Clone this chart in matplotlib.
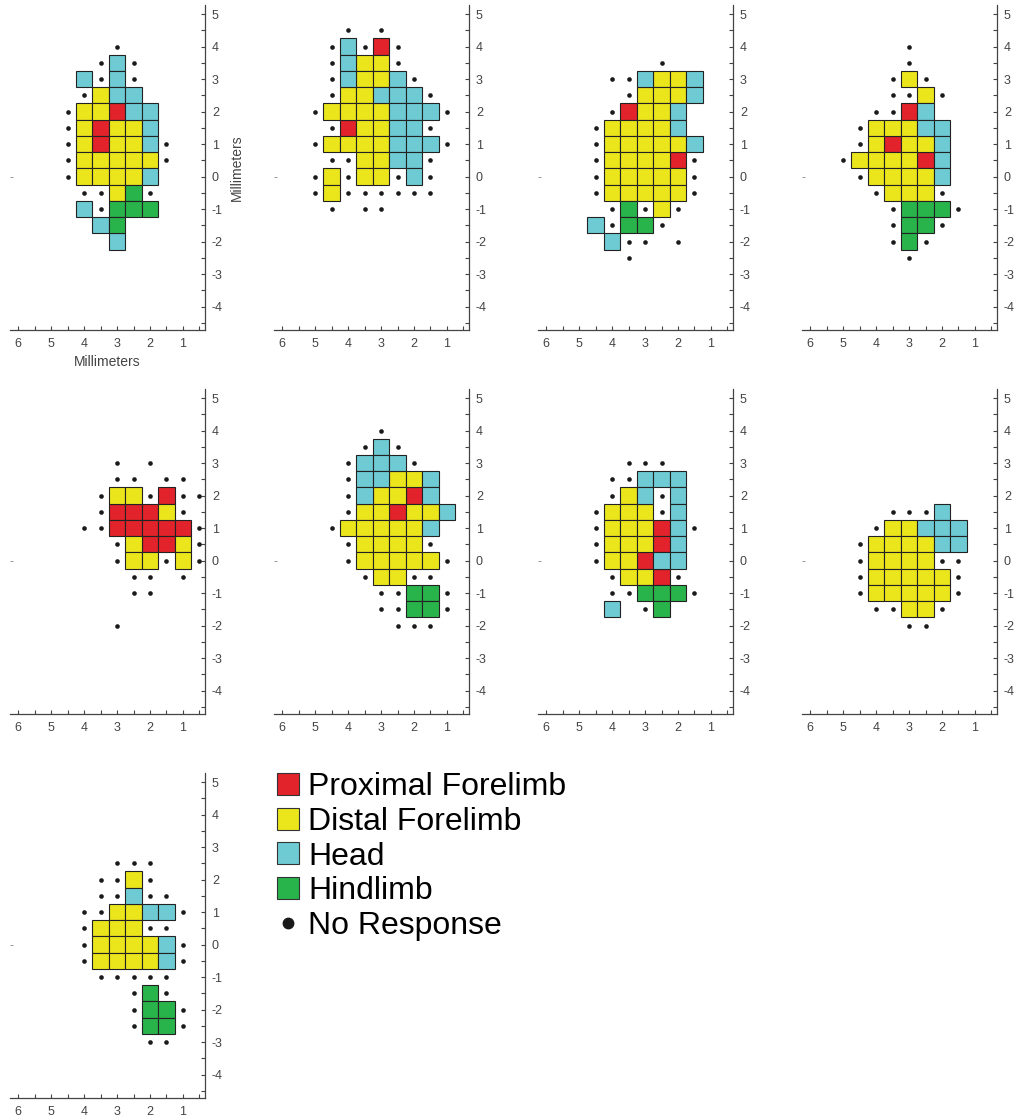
import numpy as np
import matplotlib.pyplot as plt
from matplotlib.patches import Patch
from matplotlib.lines import Line2D

plt.rcParams['font.family'] = ['Liberation Sans', 'DejaVu Sans']

# grid positions (mm), 0.5 mm sites
grid_x = [5.0, 4.5, 4.0, 3.5, 3.0, 2.5, 2.0, 1.5, 1.0, 0.5]
grid_y = [4.5, 4.0, 3.5, 3.0, 2.5, 2.0, 1.5, 1.0, 0.5, 0.0,
          -0.5, -1.0, -1.5, -2.0, -2.5, -3.0]

# P = proximal forelimb, D = distal forelimb, H = head, L = hindlimb, o = no response
panel1 = ["..........",
          "....o.....",
          "...oHo....",
          "..HoHo....",
          "..oDHH....",
          ".oDDPHH...",
          ".oDPDDH...",
          ".oDPDDHo..",
          ".oDDDDDo..",
          ".oDDDDH...",
          "..ooDLo...",
          "..HoLLL...",
          "...HL.....",
          "....H.....",
          "..........",
          ".........."]
panel2 = ["..o.o.....",
          ".oHoPo....",
          ".oHDDo....",
          ".oHDDHo...",
          ".oDDHHHo..",
          "oDDDDHHHo.",
          ".oPDDHHo..",
          "oDDDDHHHo.",
          ".ooDDHHo..",
          "oDoDDoHo..",
          "oDoooooo..",
          ".o.oo.....",
          "..........",
          "..........",
          "..........",
          ".........."]
panel3 = ["..........",
          "..........",
          ".....o....",
          "..ooHDDH..",
          "...oDDDH..",
          "..oPDDH...",
          ".oDDDDH...",
          ".oDDDDDH..",
          ".oDDDDPo..",
          ".oDDDDDo..",
          ".oDDDDDo..",
          "..oLoDo...",
          ".HoLLo....",
          "..Hoo.o...",
          "...o......",
          ".........."]
panel4 = ["..........",
          "....o.....",
          "....o.....",
          "...oDo....",
          "...ooDo...",
          "..ooPH....",
          ".oDDDHH...",
          ".oDPDDH...",
          "oDDDDPH...",
          ".oDDDDH...",
          "..oDDDo...",
          "...oLLLo..",
          "...oLLo...",
          "...oLo....",
          "....o.....",
          ".........."]
panel5 = ["..........",
          "..........",
          "..........",
          "....o.o...",
          "....oo.oo.",
          "...oDDoPoo",
          "...oPPPDo.",
          "..ooPPPPPo",
          "....oDPPDo",
          "....oDDoDo",
          ".....oo.o.",
          ".....oo...",
          "..........",
          "....o.....",
          "..........",
          ".........."]
panel6 = ["..........",
          "....o.....",
          "...oHo....",
          "..oHHHo...",
          "..oHHDDH..",
          "..oHDDPH..",
          "..oDDPDDH.",
          ".oDDDDDH..",
          "..oDDDDo..",
          "..oDDDDDo.",
          "...oDDoo..",
          "....ooLLo.",
          "....ooLLo.",
          ".....ooo..",
          "..........",
          ".........."]
panel7 = ["..........",
          "..........",
          "..........",
          "...ooo....",
          "..ooHHH...",
          "..oDHoH...",
          ".oDDDoH...",
          ".oDDDPHo..",
          ".oDDDPH...",
          ".oDDPHH...",
          "..oDDPo...",
          "..ooLLLo..",
          "..H.oL....",
          "..........",
          "..........",
          ".........."]
panel8 = ["..........",
          "..........",
          "..........",
          "..........",
          "..........",
          "..........",
          "...oooH...",
          "..oDDHHH..",
          ".oDDDDHH..",
          ".oDDDDoo..",
          ".oDDDDDo..",
          ".oDDDDDo..",
          "..ooDDo...",
          "....oo....",
          "..........",
          ".........."]
panel9 = ["..........",
          "..........",
          "..........",
          "..........",
          "....ooo...",
          "...ooDo...",
          "...ooHoo..",
          "..ooDDHHo.",
          "..oDDDoo..",
          "..oDDDDHo.",
          "..oDDDDHo.",
          "...ooooo..",
          ".....oLo..",
          ".....oLLo.",
          ".....oLLo.",
          "......oo.."]
panels = [panel1, panel2, panel3, panel4, panel5, panel6, panel7, panel8, panel9]

categories = ['Proximal Forelimb', 'Distal Forelimb', 'Head', 'Hindlimb', 'No Response']
codes = ['P', 'D', 'H', 'L', 'o']
colors = ['#e3232b', '#ebe61c', '#6ecbd4', '#29b34b', '#1a1a1a']

xticks = np.arange(0.5, 6.01, 0.5)
yticks = np.arange(-4.5, 5.01, 0.5)


def lab(v):
    return '%d' % v if v == int(v) else ''


W, H = 1020, 1120
fig = plt.figure(figsize=(W / 100, H / 100), dpi=100)

for i, grid in enumerate(panels):
    r, c = divmod(i, 4)
    left = 10 + c * 264
    top = 5 + r * 384
    ax = fig.add_axes([left / W, 1 - (top + 325) / H, 195 / W, 325 / H])
    for code, col in zip(codes, colors):
        xs, ys = [], []
        for row, yv in zip(grid, grid_y):
            for ch, xv in zip(row, grid_x):
                if ch == code:
                    xs.append(xv)
                    ys.append(yv)
        if not xs:
            continue
        if code == 'o':
            ax.scatter(xs, ys, s=11, color=col, lw=0, zorder=3)
        else:
            ax.bar(xs, 0.5, width=0.5, bottom=np.array(ys) - 0.25, color=col,
                   edgecolor='#222222', linewidth=0.8, zorder=2)
    ax.set_xlim(6.25, 0.33)
    ax.set_ylim(-4.72, 5.28)
    for s in ['top', 'left']:
        ax.spines[s].set_visible(False)
    for s in ['bottom', 'right']:
        ax.spines[s].set_color('#444444')
        ax.spines[s].set_linewidth(0.9)
    ax.yaxis.tick_right()
    ax.set_xticks(xticks)
    ax.set_xticklabels([lab(v) for v in xticks])
    ax.set_yticks(yticks)
    ax.set_yticklabels([lab(v) for v in yticks])
    ax.tick_params(direction='in', length=3, width=0.8, color='#444444',
                   labelsize=9, labelcolor='#444444')
    ax.tick_params(axis='y', pad=5)
    ax.tick_params(axis='x', pad=6)
    ax.patch.set_alpha(0)
    # small mark at y=0 on the (hidden) left side
    sec = ax.secondary_yaxis('left')
    sec.spines['left'].set_visible(False)
    sec.set_yticks([0])
    sec.set_yticklabels([])
    sec.tick_params(direction='in', length=2, width=0.6, color='#888888')
    if i == 0:
        ax.set_xlabel('Millimeters', fontsize=10, color='#444444', labelpad=3)
        ax.yaxis.set_label_position('right')
        ax.set_ylabel('Millimeters', fontsize=10, color='#444444', labelpad=5)

handles = [Patch(facecolor=col, edgecolor='#333333', linewidth=0.8) for col in colors[:4]]
handles.append(Line2D([], [], marker='o', ls='', color=colors[4], markersize=7.5))
fig.legend(handles, categories, loc='upper left', bbox_to_anchor=(277 / W, 1 - 772 / H),
           frameon=False, fontsize=23, handlelength=0.68, handleheight=0.68,
           handletextpad=0.3, labelspacing=0.15, borderpad=0, borderaxespad=0)

fig.savefig('out.png', dpi=100)
